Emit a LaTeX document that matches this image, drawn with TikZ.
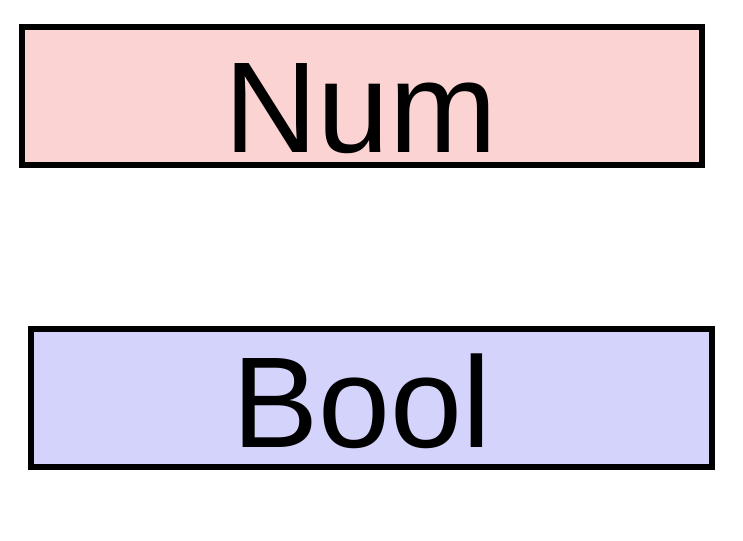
\documentclass[tikz,border=0pt]{standalone}
\usepackage{fontspec}
\setsansfont{Liberation Sans}
\definecolor{numpink}{RGB}{252,211,211}
\definecolor{boolblue}{RGB}{211,211,252}
\begin{document}
\begin{tikzpicture}[
    x=0.75pt, y=-0.75pt,
    every node/.style={font=\sffamily},
    typebox/.style={draw=black, line width=4.5pt, minimum width=510pt, minimum height=103.5pt, inner sep=0pt},
    typename/.style={anchor=base west, inner sep=0pt, font=\sffamily\fontsize{97}{100}\selectfont},
]
    \useasboundingbox (0, 0) rectangle (743, 540);

    \node[typebox, fill=numpink] (num) at (362, 96) {};
    \node[typebox, fill=boolblue, minimum width=510.75pt] (bool) at (371.5, 398) {};

    % type names, sitting a bit low in their boxes
    \node[typename] (numtext) at (224, 152) {Num};
    \node[typename] (booltext) at (232, 447) {Bool};

\end{tikzpicture}
\end{document}
